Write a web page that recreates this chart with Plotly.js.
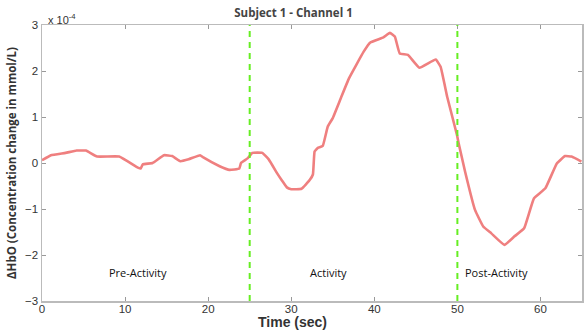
<!DOCTYPE html>
<html>
<head>
<meta charset="utf-8">
<script src="https://cdn.plot.ly/plotly-3.0.1.min.js"></script>
<style>html,body{margin:0;padding:0;background:#fff;}#chart{width:587px;height:331px;}</style>
</head>
<body>
<div id="chart"></div>
<script>
// Time in seconds
const time = [0, 1.07, 2.84, 4.17, 5.29, 6.63, 9.29, 11.54, 11.89, 12.13, 13.31, 14.69, 15.67, 16.65, 17.65, 19.02, 19.42, 21.38, 22.57, 23.75, 23.95, 24.74, 25.33, 26.51, 27.29, 28.29, 28.88, 29.47, 30.0, 31.24, 32.22, 32.61, 32.81, 33.2, 33.79, 34.39, 34.98, 35.97, 36.95, 38.72, 39.52, 41.09, 41.88, 42.47, 43.06, 44.04, 45.43, 47.39, 47.98, 48.77, 49.95, 50.15, 50.93, 52.12, 53.11, 54.09, 55.66, 56.84, 58.03, 59.21, 60.59, 61.97, 62.96, 63.75, 64.93];
// ΔHbO in units of 1e-4 mmol/L
const hbo = [0.06, 0.17, 0.22, 0.27, 0.27, 0.14, 0.14, -0.10, -0.12, -0.03, 0.00, 0.17, 0.15, 0.04, 0.08, 0.17, 0.12, -0.07, -0.15, -0.12, 0.00, 0.10, 0.22, 0.22, 0.08, -0.22, -0.38, -0.53, -0.57, -0.56, -0.37, -0.25, 0.25, 0.33, 0.37, 0.79, 0.97, 1.41, 1.84, 2.42, 2.62, 2.73, 2.83, 2.75, 2.38, 2.35, 2.07, 2.25, 2.09, 1.44, 0.61, 0.43, -0.19, -1.02, -1.38, -1.53, -1.78, -1.60, -1.42, -0.77, -0.55, -0.01, 0.15, 0.14, 0.03];
const phaseBounds = [25, 50];
const phaseLabels = ["Pre-Activity", "Activity", "Post-Activity"];
const phaseLabelX = [11.55, 34.5, 54.75];
const phaseLabelY = -2.37;
const xTicks = [0, 10, 20, 30, 40, 50, 60];
const yTicks = [-3, -2, -1, 0, 1, 2, 3];

const traces = [{
  x: time, y: hbo, type: 'scatter', mode: 'lines',
  line: {color: '#ef7f7f', width: 2.6, shape: 'spline', smoothing: 0.3},
  hoverinfo: 'skip', showlegend: false
}];

const shapes = phaseBounds.map(b => ({
  type: 'line', xref: 'x', yref: 'y', x0: b, x1: b, y0: -3, y1: 3,
  line: {color: '#66ee22', width: 2, dash: '6px,5px'}
}));

const annotations = phaseLabels.map((t, i) => ({
  text: t, x: phaseLabelX[i], y: phaseLabelY, xref: 'x', yref: 'y',
  showarrow: false, font: {family: 'Open Sans', size: 11, color: '#111'}
}));
annotations.push({
  text: 'x 10<sup>-4</sup>', xref: 'paper', yref: 'paper', x: 0.008, y: 1.022,
  xanchor: 'left', yanchor: 'middle', showarrow: false,
  font: {family: 'Liberation Sans, Arial', size: 11, color: '#333'}
});
annotations.push({
  text: '<b>Time (sec)</b>', xref: 'paper', yref: 'paper', x: 0.463, y: -0.04,
  xanchor: 'center', yanchor: 'top', showarrow: false,
  font: {family: 'Liberation Sans, Arial', size: 14, color: '#333'}
});

const axisCommon = {
  showgrid: false, zeroline: false, showline: true, linecolor: '#bbbbbb', linewidth: 1.5,
  mirror: 'ticks', ticks: 'inside', ticklen: 4, tickcolor: '#999',
  tickfont: {family: 'Liberation Sans, Arial', size: 11.5, color: '#333'}
};

const layout = {
  width: 587, height: 331,
  margin: {l: 42, r: 5, t: 25, b: 30},
  paper_bgcolor: '#fff', plot_bgcolor: '#fff',
  title: {text: '<b>Subject 1 - Channel 1</b>', x: 0.5, xref: 'container', y: 0.962, yref: 'container', yanchor: 'middle',
          font: {family: 'Open Sans', size: 11.5, color: '#444'}},
  xaxis: Object.assign({}, axisCommon, {range: [0, 65], tickvals: xTicks, ticklabelstandoff: -3}),
  yaxis: Object.assign({}, axisCommon, {range: [-3, 3], tickvals: yTicks,
    title: {text: '<b>ΔHbO (Concentration change in mmol/L)</b>', standoff: 6,
            font: {family: 'Open Sans', size: 11.5, color: '#333'}}}),
  shapes: shapes,
  annotations: annotations
};

Plotly.newPlot('chart', traces, layout, {displayModeBar: false, staticPlot: true});
</script>
</body>
</html>
